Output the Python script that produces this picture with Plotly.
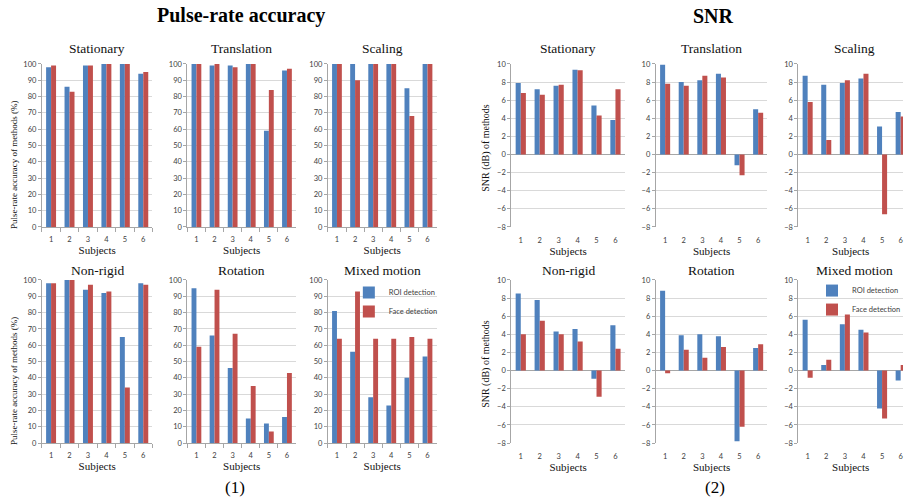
import plotly.graph_objects as go

# ---------------------------------------------------------------- data
subjects = ["1", "2", "3", "4", "5", "6"]
series_names = ["ROI detection", "Face detection"]
motions = ["Stationary", "Translation", "Scaling", "Non-rigid", "Rotation", "Mixed motion"]

# Pulse-rate accuracy (%) per subject
pr_roi_stationary = [98, 86, 99, 100, 100, 94]
pr_face_stationary = [99, 83, 99, 100, 100, 95]
pr_roi_translation = [100, 99, 99, 100, 59, 96]
pr_face_translation = [100, 100, 98, 100, 84, 97]
pr_roi_scaling = [100, 100, 100, 100, 85, 100]
pr_face_scaling = [100, 90, 100, 100, 68, 100]
pr_roi_nonrigid = [98, 100, 94, 92, 65, 98]
pr_face_nonrigid = [98, 100, 97, 93, 34, 97]
pr_roi_rotation = [95, 66, 46, 15, 12, 16]
pr_face_rotation = [59, 94, 67, 35, 7, 43]
pr_roi_mixed = [81, 56, 28, 23, 40, 53]
pr_face_mixed = [64, 93, 64, 64, 65, 64]

# SNR (dB) per subject
snr_roi_stationary = [7.9, 7.2, 7.6, 9.35, 5.4, 3.8]
snr_face_stationary = [6.8, 6.6, 7.7, 9.3, 4.3, 7.2]
snr_roi_translation = [9.9, 8.0, 8.2, 8.9, -1.2, 5.0]
snr_face_translation = [7.8, 7.6, 8.7, 8.5, -2.3, 4.6]
snr_roi_scaling = [8.7, 7.7, 7.9, 8.4, 3.1, 4.7]
snr_face_scaling = [5.8, 1.6, 8.2, 8.9, -6.6, 4.2]
snr_roi_nonrigid = [8.5, 7.8, 4.3, 4.6, -0.9, 5.0]
snr_face_nonrigid = [4.0, 5.5, 4.0, 3.2, -2.9, 2.4]
snr_roi_rotation = [8.8, 3.9, 4.0, 3.8, -7.8, 2.5]
snr_face_rotation = [-0.3, 2.3, 1.4, 2.6, -6.2, 2.9]
snr_roi_mixed = [5.6, 0.6, 5.1, 4.5, -4.2, -1.1]
snr_face_mixed = [-0.8, 1.2, 6.2, 4.2, -5.3, 0.6]

pulse_panels = [
    (pr_roi_stationary, pr_face_stationary),
    (pr_roi_translation, pr_face_translation),
    (pr_roi_scaling, pr_face_scaling),
    (pr_roi_nonrigid, pr_face_nonrigid),
    (pr_roi_rotation, pr_face_rotation),
    (pr_roi_mixed, pr_face_mixed),
]
snr_panels = [
    (snr_roi_stationary, snr_face_stationary),
    (snr_roi_translation, snr_face_translation),
    (snr_roi_scaling, snr_face_scaling),
    (snr_roi_nonrigid, snr_face_nonrigid),
    (snr_roi_rotation, snr_face_rotation),
    (snr_roi_mixed, snr_face_mixed),
]

# ---------------------------------------------------------------- layout geometry (pixels)
W, H = 906, 504
BLUE, RED = "#4F81BD", "#C0504D"
GRID, AXIS = "#D9D9D9", "#A6A6A6"
TICKFONT = dict(family="Lato, Carlito, Open Sans, sans-serif", size=7.5, color="#404040")
SERIF = "Liberation Serif, Times New Roman, serif"

pulse_cols = [(42, 153), (188, 297), (329, 438)]
snr_cols = [(513, 627), (658, 770), (801, 913)]
rows = [(61, 227), (281, 447)]
title_gap = [16, 10]  # heading offset above each row of plots


def fx(x):
    return x / W


def fy(y):
    return 1 - y / H


fig = go.Figure()
layout = dict(
    width=W, height=H,
    margin=dict(l=0, r=0, t=0, b=0),
    paper_bgcolor="white", plot_bgcolor="white",
    barmode="group", bargap=0.46, bargroupgap=0,
    annotations=[],
)


def note(text, x, y, size, angle=0, color="#111"):
    layout["annotations"].append(dict(
        text=text, xref="paper", yref="paper", x=fx(x), y=fy(y),
        xanchor="center", yanchor="middle", showarrow=False, textangle=angle,
        font=dict(family=SERIF, size=size, color=color),
    ))


idx = 0


def add_panel(roi, face, col, r, kind, title, legend_name):
    global idx
    idx += 1
    xa = "x" if idx == 1 else f"x{idx}"
    ya = "y" if idx == 1 else f"y{idx}"
    xk = "xaxis" if idx == 1 else f"xaxis{idx}"
    yk = "yaxis" if idx == 1 else f"yaxis{idx}"
    x0, x1 = col
    y0, y1 = rows[r]
    # the right-most SNR column runs past the page edge and is clipped there
    unit = (x1 - x0) / 6
    vis_x1 = min(x1, W)
    xr = [-0.5, -0.5 + (vis_x1 - x0) / unit]

    for vals, name, color in ((roi, series_names[0], BLUE), (face, series_names[1], RED)):
        fig.add_trace(go.Bar(
            x=subjects, y=vals, name=name, marker=dict(color=color, line=dict(width=0)),
            xaxis=xa, yaxis=ya, showlegend=legend_name is not None,
            legend=legend_name if legend_name else "legend",
        ))

    xaxis = dict(
        domain=[fx(x0), fx(vis_x1)], anchor=ya, type="category", range=xr,
        tickfont=TICKFONT, showgrid=False, zeroline=False,
        title=dict(text="Subjects", font=dict(family=SERIF, size=11, color="#111"), standoff=2),
        fixedrange=True,
    )
    if kind == "pulse":
        xaxis.update(showline=True, linecolor=AXIS, linewidth=1, ticks="outside",
                     tickson="boundaries", ticklen=4, tickcolor=AXIS, ticklabelstandoff=5)
    else:
        xaxis.update(showline=False, ticks="outside", ticklen=4,
                     tickcolor="rgba(0,0,0,0)", ticklabelstandoff=2)
    yaxis = dict(
        domain=[fy(y1), fy(y0)], anchor=xa, tickfont=TICKFONT,
        showgrid=True, gridcolor=GRID, gridwidth=1,
        showline=True, linecolor=AXIS, linewidth=1,
        ticks="outside", ticklen=3, tickcolor=AXIS, fixedrange=True,
    )
    if kind == "pulse":
        yaxis.update(range=[0, 100], dtick=10, tick0=0, zeroline=False)
    else:
        yaxis.update(range=[-8, 10], dtick=2, tick0=0, zeroline=True,
                     zerolinecolor=AXIS, zerolinewidth=1)
    layout[xk] = xaxis
    layout[yk] = yaxis

    note(title, (x0 + x1) / 2, y0 - title_gap[r], 13.5)


for i, (roi, face) in enumerate(pulse_panels):
    add_panel(roi, face, pulse_cols[i % 3], i // 3, "pulse", motions[i],
              "legend" if i == 5 else None)
for i, (roi, face) in enumerate(snr_panels):
    add_panel(roi, face, snr_cols[i % 3], i // 3, "snr", motions[i],
              "legend2" if i == 5 else None)

# vertical axis titles of the left-hand column in each block
for row in rows:
    note("Pulse-rate accuracy of methods (%)", 14, row[0] + 103, 9, angle=-90)
    note("SNR (dB) of methods", 488, row[0] + 85, 10, angle=-90)

legend_common = dict(
    xanchor="left", yanchor="top", bgcolor="rgba(0,0,0,0)", borderwidth=0,
    font=TICKFONT, tracegroupgap=0, itemclick=False, itemdoubleclick=False,
)
layout["legend"] = dict(x=fx(350), y=fy(279), **legend_common)
layout["legend2"] = dict(x=fx(815), y=fy(277), **legend_common)

# block headings and captions
note("<b>Pulse-rate accuracy</b>", 242, 12, 20, color="#000")
note("<b>SNR</b>", 716, 12, 20, color="#000")
note("(1)", 236, 492, 17, color="#000")
note("(2)", 717, 492, 17, color="#000")

fig.update_layout(**layout)
fig.write_html("out.html")
